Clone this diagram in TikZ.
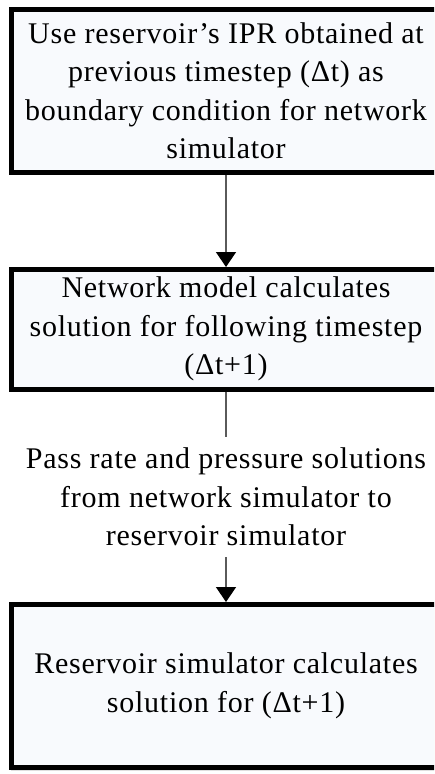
\documentclass[tikz,border=0pt]{standalone}
\usepackage{fontspec}
\setmainfont{Liberation Serif}[LetterSpace=2.5]
\usetikzlibrary{arrows.meta,shadows}
\definecolor{boxfill}{HTML}{F8FAFD}
\definecolor{linegray}{HTML}{5A5A5A}
\begin{document}
\begin{tikzpicture}[x=1pt,y=-1pt,
  box/.style={draw=black, line width=5pt, fill=boxfill, minimum width=430pt,
    inner sep=0pt, align=center, font=\fontsize{30}{38.5}\selectfont,
    drop shadow={shadow xshift=0pt, shadow yshift=-3pt, opacity=0.25, fill=gray}},
  lbl/.style={inner sep=0pt, align=center, minimum width=420pt, font=\fontsize{30}{38.5}\selectfont},
  conn/.style={draw=linegray, line width=1.5pt},
  arr/.style={conn, -{Triangle[length=15pt,width=20pt,color=black]}}]
\useasboundingbox (0,0) rectangle (434,774);
\fill[white] (0,0) rectangle (434,774);
\clip (0,0) rectangle (434,774);
\node[box, minimum height=162.5pt] (b1) at (226,90.75)
  {Use reservoir’s IPR obtained at\\ previous timestep (Δt) as\\ boundary condition for network\\ simulator};
\node[box, minimum height=119.5pt] (b2) at (226,329.25)
  {Network model calculates\\ solution for following timestep\\ (Δt+1)};
\node[lbl, minimum height=120pt] (m) at (226,497)
  {Pass rate and pressure solutions\\ from network simulator to\\ reservoir simulator};
\node[box, minimum height=163pt] (b3) at (226,686)
  {Reservoir simulator calculates\\ solution for (Δt+1)};
\draw[arr] (b1.south) -- (b2.north);
\draw[conn] (b2.south) -- (m.north);
\draw[arr] (m.south) -- (b3.north);
\end{tikzpicture}
\end{document}
